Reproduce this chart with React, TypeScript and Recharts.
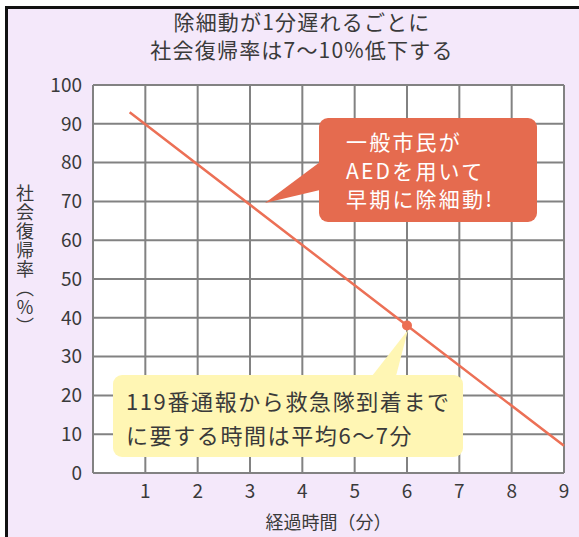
import React from "react";
import {
  LineChart,
  Line,
  XAxis,
  YAxis,
  CartesianGrid,
  ReferenceLine,
  Label,
} from "recharts";

// minutes since collapse
const minutes = [0.7, 6, 9];
// rate of return to society (%)
const returnRate = [93, 38, 7];
const xTicks = [1, 2, 3, 4, 5, 6, 7, 8, 9];
const yTicks = [0, 10, 20, 30, 40, 50, 60, 70, 80, 90, 100];

const titleLines = ["除細動が1分遅れるごとに", "社会復帰率は7〜10%低下する"];
const redNote = ["一般市民が", "AEDを用いて", "早期に除細動!"];
const yellowNote = ["119番通報から救急隊到着まで", "に要する時間は平均6〜7分"];

const data = minutes.map((m, i) => ({ min: m, rate: returnRate[i] }));

const FONT = '"Noto Sans CJK JP", "Noto Sans", sans-serif';
const TEXT = "#3a3a3a";

const renderDot = (props: any) => {
  const { cx, cy, payload } = props;
  if (payload.min !== 6) return <g key={`d-${payload.min}`} />;
  return <circle key="d6" cx={cx} cy={cy} r={5} fill="#EC6E53" />;
};

export default function App() {
  return (
    <div
      style={{
        position: "absolute",
        left: 0,
        top: 0,
        width: 579,
        height: 537,
        background: "#fff",
        overflow: "hidden",
        fontFamily: FONT,
      }}
    >
      <div
        style={{
          position: "absolute",
          left: 5,
          top: 6,
          right: 0,
          bottom: 0,
          borderTop: "3px solid #111",
          borderLeft: "3px solid #111",
          background: "#F4E8FA",
        }}
      />
      <div style={{ position: "absolute", left: 0, top: 0 }}>
        <LineChart
          width={579}
          height={537}
          data={data}
          margin={{ top: 85, right: 15, bottom: 34, left: 33 }}
        >
          <CartesianGrid
            stroke="#828282"
            strokeWidth={2}
            fill="#fff"
            fillOpacity={1}
          />
          <ReferenceLine x={0} stroke="#828282" strokeWidth={2} />
          <XAxis
            type="number"
            dataKey="min"
            domain={[0, 9]}
            ticks={xTicks}
            axisLine={false}
            tickLine={false}
            tickSize={0}
            tickMargin={12}
            height={30}
            tick={{ fill: TEXT, fontSize: 19, fontFamily: FONT }}
          >
            <Label
              value="経過時間（分）"
              position="insideBottom"
              offset={-26}
              style={{ fill: TEXT, fontSize: 18, fontFamily: FONT }}
            />
          </XAxis>
          <YAxis
            type="number"
            domain={[0, 100]}
            ticks={yTicks}
            interval={0}
            width={60}
            axisLine={false}
            tickLine={false}
            tickSize={0}
            tickMargin={11}
            tick={{ fill: TEXT, fontSize: 19, fontFamily: FONT }}
          />
          <Line
            dataKey="rate"
            stroke="#EC7056"
            strokeWidth={2.5}
            dot={renderDot}
            activeDot={false}
            isAnimationActive={false}
          />
        </LineChart>
      </div>
      <svg
        width={579}
        height={537}
        style={{ position: "absolute", left: 0, top: 0, pointerEvents: "none" }}
      >
        {titleLines.map((t, i) => (
          <text
            key={t}
            x={302}
            y={30 + i * 28}
            textAnchor="middle"
            fill={TEXT}
            fontSize={21}
            letterSpacing={1.2}
            fontFamily={FONT}
          >
            {t}
          </text>
        ))}
        <text
          x={25}
          y={260}
          fill={TEXT}
          fontSize={18}
          fontFamily={FONT}
          textAnchor="middle"
          letterSpacing={1}
          style={{ writingMode: "vertical-rl" } as any}
        >
          社会復帰率（％）
        </text>

        {/* red callout */}
        <path d="M320 162 L265 203 L320 190 Z" fill="#E56B4F" />
        <rect x={319} y={118} width={218} height={104} rx={9} fill="#E56B4F" />
        {redNote.map((t, i) => (
          <text
            key={t}
            x={346}
            y={150 + i * 28.5}
            fill="#fff"
            fontSize={21}
            letterSpacing={2.2}
            fontFamily={FONT}
          >
            {t}
          </text>
        ))}

        {/* yellow callout */}
        <path d="M372 376 L408 330 L396 376 Z" fill="#FFF6B4" />
        <rect x={113} y={375} width={350} height={82} rx={9} fill="#FFF6B4" />
        {yellowNote.map((t, i) => (
          <text
            key={t}
            x={126}
            y={410 + i * 34}
            fill={TEXT}
            fontSize={22}
            letterSpacing={1.6}
            fontFamily={FONT}
          >
            {t}
          </text>
        ))}
      </svg>
    </div>
  );
}
